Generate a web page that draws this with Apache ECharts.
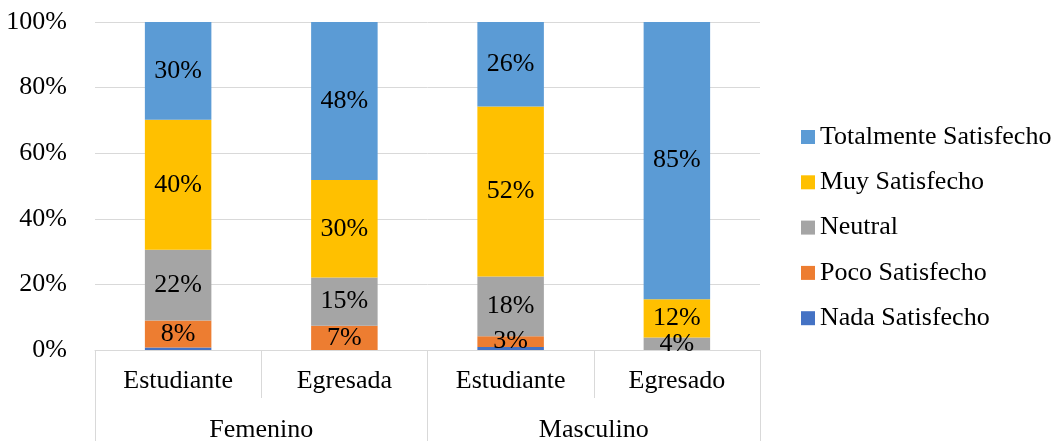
<!DOCTYPE html>
<html>
<head>
<meta charset="utf-8">
<script src="https://cdn.jsdelivr.net/npm/echarts@6/dist/echarts.min.js"></script>
<style>
  html, body { margin: 0; padding: 0; background: #fff; }
  #chart { width: 1061px; height: 443px; }
</style>
</head>
<body>
<div id="chart"></div>
<script>
// categorias (nivel 1 y nivel 2)
var categorias = ['Estudiante', 'Egresada', 'Estudiante', 'Egresado'];
var grupos = ['Femenino', 'Masculino'];
var yTicks = [0, 20, 40, 60, 80, 100];

// porcentajes por nivel de satisfaccion
var nadaSatisfecho = [0.8, 0, 0.9, 0];
var pocoSatisfecho = [8.2, 7.4, 3.3, 0];
var neutral = [21.6, 14.7, 18.2, 3.8];
var muySatisfecho = [39.6, 29.7, 51.8, 11.7];
var totalmenteSatisfecho = [29.8, 48.2, 25.8, 84.5];

var fuente = 'Liberation Serif';
var tam = 26;

function serie(nombre, datos, color) {
  return {
    name: nombre,
    type: 'bar',
    stack: 'total',
    barWidth: '40%',
    xAxisIndex: 0,
    data: datos,
    itemStyle: { color: color },
    label: {
      show: true,
      position: 'inside',
      color: '#000',
      fontFamily: fuente,
      fontSize: tam,
      formatter: function (p) {
        return p.value >= 2 ? Math.round(p.value) + '%' : '';
      }
    }
  };
}

var chart = echarts.init(document.getElementById('chart'));
var option = {
  animation: false,
  grid: { left: 95, right: 301, top: 22, bottom: 91 },
  legend: {
    orient: 'vertical',
    left: 796,
    top: 119,
    itemWidth: 14,
    itemHeight: 14,
    itemGap: 19.3,
    icon: 'rect',
    data: ['Totalmente Satisfecho', 'Muy Satisfecho', 'Neutral', 'Poco Satisfecho', 'Nada Satisfecho'],
    textStyle: { fontFamily: fuente, fontSize: tam, color: '#000', lineHeight: 24 }
  },
  xAxis: [
    {
      type: 'category',
      data: categorias,
      position: 'bottom',
      axisLine: { lineStyle: { color: '#d9d9d9' } },
      axisTick: { show: true, length: 48, lineStyle: { color: '#d9d9d9' } },
      axisLabel: { margin: 18, fontFamily: fuente, fontSize: tam, color: '#000' }
    },
    {
      type: 'category',
      data: grupos,
      position: 'bottom',
      axisLine: { show: false },
      axisTick: { show: true, length: 91, lineStyle: { color: '#d9d9d9' } },
      axisLabel: { margin: 67, fontFamily: fuente, fontSize: tam, color: '#000' }
    }
  ],
  yAxis: {
    type: 'value',
    min: yTicks[0],
    max: yTicks[yTicks.length - 1],
    interval: 20,
    axisLine: { show: false },
    axisTick: { show: false },
    splitLine: { lineStyle: { color: '#d9d9d9' } },
    axisLabel: { margin: 28, fontFamily: fuente, fontSize: tam, color: '#000', formatter: '{value}%' }
  },
  series: [
    serie('Nada Satisfecho', nadaSatisfecho, '#4472C4'),
    serie('Poco Satisfecho', pocoSatisfecho, '#ED7D31'),
    serie('Neutral', neutral, '#A5A5A5'),
    serie('Muy Satisfecho', muySatisfecho, '#FFC000'),
    serie('Totalmente Satisfecho', totalmenteSatisfecho, '#5B9BD5')
  ]
};
chart.setOption(option);
</script>
</body>
</html>
